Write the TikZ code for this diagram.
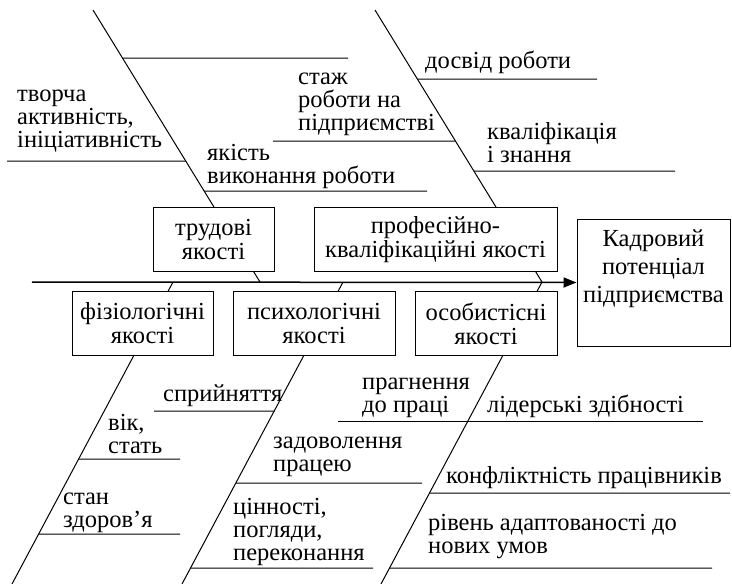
\documentclass[tikz,border=0pt]{standalone}
\usepackage{fontspec}
\setmainfont{Liberation Serif}
\newfontfamily\fishserif{Liberation Serif}
\usetikzlibrary{positioning,arrows.meta}
\newcommand{\fishfont}{\fishserif\fontsize{24.5}{23}\selectfont}
\tikzset{
  bone/.style={line width=1pt},
  spine/.style={line width=1.5pt,-{Triangle[length=13pt,width=10pt]}},
  catbox/.style={draw,line width=1pt,fill=white,inner sep=0pt,align=center,minimum height=64pt},
  lbl/.style={anchor=base west,inner sep=0pt,align=left},
}

\begin{document}
\begin{tikzpicture}[x=1pt,y=-1pt,font=\fishfont]
\useasboundingbox (0,0) rectangle (732,584);
% bones
\coordinate (tlA) at (93,10);   \coordinate (tlB) at (260,282);
\coordinate (trA) at (375,10);  \coordinate (trB) at (542,282);
\coordinate (blA) at (173,282); \coordinate (blB) at (12,584);
\coordinate (bmA) at (343,282); \coordinate (bmB) at (182,584);
\coordinate (brA) at (542,282); \coordinate (brB) at (381,584);
\draw[bone] (tlA) -- (tlB);
\draw[bone] (trA) -- (trB);
\draw[bone] (blA) -- (blB);
\draw[bone] (bmA) -- (bmB);
\draw[bone] (brA) -- (brB);

% ribs
\coordinate (ribEa) at (intersection of tlA--tlB and 0,58--10,58);   \coordinate (ribEb) at (348,58);
\coordinate (ribTa) at (7,161);   \coordinate (ribTb) at (intersection of tlA--tlB and 0,161--10,161);
\coordinate (ribYa) at (intersection of tlA--tlB and 0,191--10,191); \coordinate (ribYb) at (427,191);
\coordinate (ribSa) at (273,141); \coordinate (ribSb) at (intersection of trA--trB and 0,141--10,141);
\coordinate (ribDa) at (intersection of trA--trB and 0,79--10,79);   \coordinate (ribDb) at (597,79);
\coordinate (ribKa) at (intersection of trA--trB and 0,171--10,171); \coordinate (ribKb) at (675,171);
\coordinate (ribVa) at (intersection of blA--blB and 0,459--10,459); \coordinate (ribVb) at (180,459);
\coordinate (ribZa) at (intersection of blA--blB and 0,534--10,534); \coordinate (ribZb) at (180,534);
\coordinate (ribCa) at (154,411); \coordinate (ribCb) at (intersection of bmA--bmB and 0,411--10,411);
\coordinate (ribWa) at (intersection of bmA--bmB and 0,483--10,483); \coordinate (ribWb) at (422,483);
\coordinate (ribNa) at (intersection of bmA--bmB and 0,568--10,568); \coordinate (ribNb) at (373,568);
\coordinate (ribPa) at (338,421); \coordinate (ribPb) at (703,421);
\coordinate (ribFa) at (intersection of brA--brB and 0,493--10,493); \coordinate (ribFb) at (730,493);
\coordinate (ribRa) at (intersection of brA--brB and 0,568--10,568); \coordinate (ribRb) at (712,568);
\foreach \r in {E,T,Y,S,D,K,V,Z,C,W,N,P,F,R}
  \draw[bone] (rib\r a) -- (rib\r b);

% boxes
\node[catbox,minimum width=121pt] (trud) at (213.5,239.5) {трудові\\[1pt]якості};
\node[catbox,minimum width=243pt] (prof) at (435.5,239.5) {професійно-\\[1pt]кваліфікаційні якості};
\node[catbox,minimum width=141pt] (fiz) at (142.5,323.5) {фізіологічні\\[1pt]якості};
\node[catbox,minimum width=162pt] (psy) at (314,323.5) {психологічні\\[1pt]якості};
\node[catbox,minimum width=142pt] (osob) at (486,323.5) {особистісні\\[1pt]якості};
\node[catbox,minimum width=153pt,minimum height=127pt] (kadr) at (653.5,282.5) {};
\node[anchor=base,inner sep=0pt,align=center,yshift=-84pt] (kadrlbl) at (kadr.north)
  {Кадровий\\[5pt]потенціал\\[5pt]підприємства};
\coordinate (spineA) at (32,282);
\draw[spine] (spineA) -- (kadr.west);

% labels (anchored on the last line)
\node[lbl] (lTvor) at (17,147) {творча\\активність,\\ініціативність};
\node[lbl] (lStazh) at (298,130) {стаж\\роботи на\\підприємстві};
\node[lbl] (lYak) at (207,183) {якість\\виконання роботи};
\node[lbl] (lDosv) at (425,68) {досвід роботи};
\node[lbl] (lKval) at (487,162) {кваліфікація\\і знання};
\node[lbl] (lSpr) at (163,401) {сприйняття};
\node[lbl] (lVik) at (108,453) {вік,\\стать};
\node[lbl] (lStan) at (63,527) {стан\\здоров’я};
\node[lbl] (lPrag) at (362,412) {прагнення\\до праці};
\node[lbl] (lLid) at (487,412) {лідерські здібності};
\node[lbl] (lZad) at (273,471) {задоволення\\працею};
\node[lbl] (lKonf) at (446,483) {конфліктність працівників};
\node[lbl] (lTsin) at (233,560) {цінності,\\погляди,\\переконання};
\node[lbl] (lRiv) at (428,553) {рівень адаптованості до\\нових умов};
\end{tikzpicture}
\end{document}
